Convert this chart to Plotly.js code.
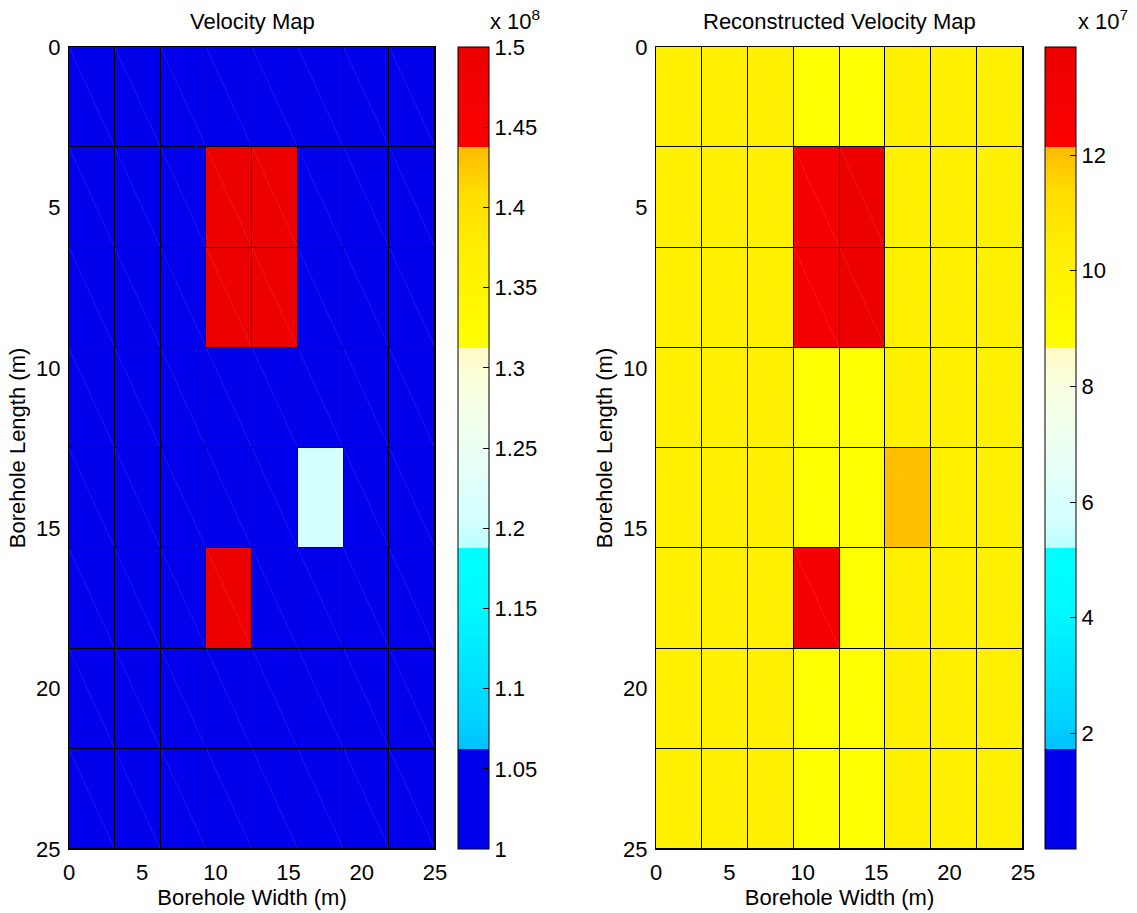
<!DOCTYPE html>
<html>
<head>
<meta charset="utf-8">
<script src="https://cdn.plot.ly/plotly-3.0.1.min.js"></script>
<style>
  html, body { margin: 0; padding: 0; background: #fff; }
  #chart { width: 1137px; height: 913px; }
</style>
</head>
<body>
<div id="chart"></div>
<script>
// ---------- data ----------
const widthEdges  = [0, 3.125, 6.25, 9.375, 12.5, 15.625, 18.75, 21.875, 25];
const lengthEdges = [0, 3.125, 6.25, 9.375, 12.5, 15.625, 18.75, 21.875, 25];

// Velocity map (rows top -> bottom, columns left -> right)
const velocity = [
  [1.0e8, 1.0e8, 1.0e8, 1.0e8, 1.0e8, 1.0e8, 1.0e8, 1.0e8],
  [1.0e8, 1.0e8, 1.0e8, 1.5e8, 1.5e8, 1.0e8, 1.0e8, 1.0e8],
  [1.0e8, 1.0e8, 1.0e8, 1.5e8, 1.5e8, 1.0e8, 1.0e8, 1.0e8],
  [1.0e8, 1.0e8, 1.0e8, 1.0e8, 1.0e8, 1.0e8, 1.0e8, 1.0e8],
  [1.0e8, 1.0e8, 1.0e8, 1.0e8, 1.0e8, 1.205e8, 1.0e8, 1.0e8],
  [1.0e8, 1.0e8, 1.0e8, 1.5e8, 1.0e8, 1.0e8, 1.0e8, 1.0e8],
  [1.0e8, 1.0e8, 1.0e8, 1.0e8, 1.0e8, 1.0e8, 1.0e8, 1.0e8],
  [1.0e8, 1.0e8, 1.0e8, 1.0e8, 1.0e8, 1.0e8, 1.0e8, 1.0e8]
];

// Reconstructed velocity map
const reconstructed = [
  [10.2e7, 10.2e7, 10.2e7, 8.8e7, 8.8e7, 10.2e7, 10.2e7, 10.2e7],
  [10.2e7, 10.2e7, 10.2e7, 12.9e7, 13.87e7, 10.2e7, 10.2e7, 10.2e7],
  [10.2e7, 10.2e7, 10.2e7, 12.9e7, 13.87e7, 10.2e7, 10.2e7, 10.2e7],
  [10.2e7, 10.2e7, 10.2e7, 8.8e7, 8.8e7, 10.2e7, 10.2e7, 10.2e7],
  [10.2e7, 10.2e7, 10.2e7, 8.8e7, 8.8e7, 12.05e7, 10.2e7, 10.2e7],
  [10.2e7, 10.2e7, 10.2e7, 12.9e7, 8.8e7, 10.2e7, 10.2e7, 10.2e7],
  [10.2e7, 10.2e7, 10.2e7, 8.8e7, 8.8e7, 10.2e7, 10.2e7, 10.2e7],
  [10.2e7, 10.2e7, 10.2e7, 8.8e7, 8.8e7, 10.2e7, 10.2e7, 10.2e7]
];

const velRange = [1.0e8, 1.5e8];
const recRange = [0, 1.387e8];

const axisTickVals = [0, 5, 10, 15, 20, 25];
const velTickVals = [1.0e8, 1.05e8, 1.1e8, 1.15e8, 1.2e8, 1.25e8, 1.3e8, 1.35e8, 1.4e8, 1.45e8, 1.5e8];
const velTickText = ['1', '1.05', '1.1', '1.15', '1.2', '1.25', '1.3', '1.35', '1.4', '1.45', '1.5'];
const recTickVals = [2e7, 4e7, 6e7, 8e7, 10e7, 12e7];
const recTickText = ['2', '4', '6', '8', '10', '12'];

// ---------- style ----------
const FONT = 'Liberation Sans, Arial, Helvetica, sans-serif';
const FS = 22;

const colorscale = [
  [0.000, 'rgb(0,0,236)'],
  [0.125, 'rgb(0,0,240)'],
  [0.125, 'rgb(0,192,255)'],
  [0.160, 'rgb(0,210,255)'],
  [0.250, 'rgb(0,235,255)'],
  [0.300, 'rgb(0,250,255)'],
  [0.375, 'rgb(0,255,255)'],
  [0.375, 'rgb(188,255,255)'],
  [0.410, 'rgb(212,255,255)'],
  [0.500, 'rgb(236,255,244)'],
  [0.580, 'rgb(250,255,222)'],
  [0.625, 'rgb(255,250,195)'],
  [0.625, 'rgb(255,255,0)'],
  [0.750, 'rgb(255,238,0)'],
  [0.820, 'rgb(255,220,0)'],
  [0.875, 'rgb(255,186,0)'],
  [0.875, 'rgb(252,0,0)'],
  [1.000, 'rgb(236,0,0)']
];

// faint diagonal (triangulation) lines in each cell, built from the grid edges
function diagonals() {
  const xs = [], ys = [];
  for (let r = 0; r < lengthEdges.length - 1; r++) {
    for (let c = 0; c < widthEdges.length - 1; c++) {
      xs.push(widthEdges[c], widthEdges[c + 1], null);
      ys.push(lengthEdges[r], lengthEdges[r + 1], null);
    }
  }
  return { xs, ys };
}
const diag = diagonals();

const plotTop = 47, plotBot = 849, H = 913, W = 1137;
const yDom = [1 - plotBot / H, 1 - plotTop / H];
const xDom1 = [69 / W, 435 / W];
const xDom2 = [656 / W, 1023 / W];

function cbar(x, tv, tt) {
  return {
    x: x, xanchor: 'left', xref: 'paper',
    y: (yDom[0] + yDom[1]) / 2, yanchor: 'middle',
    lenmode: 'pixels', len: plotBot - plotTop,
    thickness: 31, thicknessmode: 'pixels',
    xpad: 0, ypad: 0,
    outlinecolor: '#000', outlinewidth: 1,
    ticks: 'inside', ticklen: 6, tickcolor: '#000', tickwidth: 1,
    tickvals: tv, ticktext: tt,
    tickfont: { family: FONT, size: FS, color: '#000' },
    ticklabelposition: 'outside'
  };
}

const traces = [
  {
    type: 'heatmap', x: widthEdges, y: lengthEdges, z: velocity,
    zmin: velRange[0], zmax: velRange[1], colorscale: colorscale,
    xgap: 1, ygap: 1, xaxis: 'x', yaxis: 'y',
    colorbar: cbar(458 / W, velTickVals, velTickText),
    hovertemplate: 'x=%{x}<br>y=%{y}<br>v=%{z}<extra></extra>'
  },
  {
    type: 'scatter', mode: 'lines', x: diag.xs, y: diag.ys,
    xaxis: 'x', yaxis: 'y', hoverinfo: 'skip', showlegend: false,
    line: { color: 'rgba(255,255,255,0.17)', width: 0.6 }
  },
  {
    type: 'heatmap', x: widthEdges, y: lengthEdges, z: reconstructed,
    zmin: recRange[0], zmax: recRange[1], colorscale: colorscale,
    xgap: 1, ygap: 1, xaxis: 'x2', yaxis: 'y2',
    colorbar: cbar(1045 / W, recTickVals, recTickText),
    hovertemplate: 'x=%{x}<br>y=%{y}<br>v=%{z}<extra></extra>'
  },
  {
    type: 'scatter', mode: 'lines', x: diag.xs, y: diag.ys,
    xaxis: 'x2', yaxis: 'y2', hoverinfo: 'skip', showlegend: false,
    line: { color: 'rgba(255,255,255,0.17)', width: 0.6 }
  }
];

function xAxis(dom, anchor) {
  return {
    domain: dom, anchor: anchor, range: [0, 25],
    tickvals: axisTickVals, ticks: '', ticklabelstandoff: 4,
    showgrid: false, zeroline: false,
    showline: true, mirror: true, linecolor: '#000', linewidth: 1,
    tickfont: { family: FONT, size: FS, color: '#000' },
    title: { text: 'Borehole Width (m)', standoff: 1,
             font: { family: FONT, size: FS, color: '#000' } }
  };
}
function yAxis(anchor) {
  return {
    domain: yDom, anchor: anchor, range: [25, 0],
    tickvals: axisTickVals, ticks: '', ticklabelstandoff: 3,
    showgrid: false, zeroline: false,
    showline: true, mirror: true, linecolor: '#000', linewidth: 1,
    tickfont: { family: FONT, size: FS, color: '#000' },
    title: { text: 'Borehole Length (m)', standoff: 4,
             font: { family: FONT, size: FS, color: '#000' } }
  };
}

const layout = {
  width: W, height: H,
  margin: { l: 0, r: 0, t: 0, b: 0 },
  paper_bgcolor: '#fff', plot_bgcolor: '#000',
  showlegend: false,
  font: { family: FONT, size: FS, color: '#000' },
  xaxis: xAxis(xDom1, 'y'),
  yaxis: yAxis('x'),
  xaxis2: xAxis(xDom2, 'y2'),
  yaxis2: yAxis('x2'),
  annotations: [
    { text: 'Velocity Map', xref: 'paper', yref: 'paper',
      x: (xDom1[0] + xDom1[1]) / 2, y: 1 - 22 / H, xanchor: 'center', yanchor: 'middle',
      showarrow: false, font: { family: FONT, size: FS, color: '#000' } },
    { text: 'Reconstructed Velocity Map', xref: 'paper', yref: 'paper',
      x: (xDom2[0] + xDom2[1]) / 2, y: 1 - 22 / H, xanchor: 'center', yanchor: 'middle',
      showarrow: false, font: { family: FONT, size: FS, color: '#000' } },
    { text: 'x 10<sup>8</sup>', xref: 'paper', yref: 'paper',
      x: 488 / W, y: 1 - 36 / H, xanchor: 'left', yanchor: 'bottom',
      showarrow: false, font: { family: FONT, size: FS, color: '#000' } },
    { text: 'x 10<sup>7</sup>', xref: 'paper', yref: 'paper',
      x: 1076 / W, y: 1 - 36 / H, xanchor: 'left', yanchor: 'bottom',
      showarrow: false, font: { family: FONT, size: FS, color: '#000' } }
  ]
};

Plotly.newPlot('chart', traces, layout, { displayModeBar: false, staticPlot: false });
</script>
</body>
</html>
